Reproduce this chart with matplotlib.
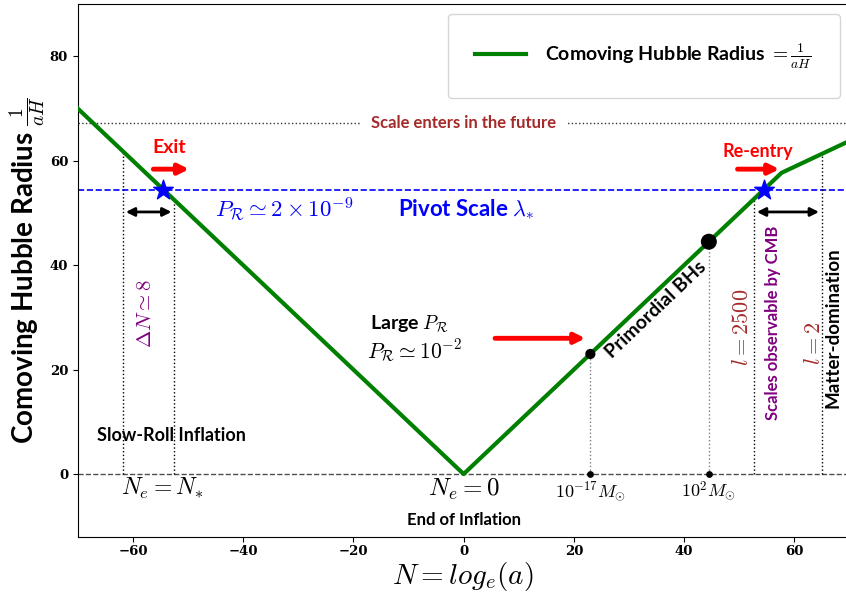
import numpy as np
import matplotlib
matplotlib.use("Agg")
import matplotlib.pyplot as plt
from matplotlib.ticker import FuncFormatter

plt.rcParams['font.family'] = ['Lato', 'DejaVu Sans']
plt.rcParams['font.weight'] = 'bold'
plt.rcParams['axes.labelweight'] = 'bold'
plt.rcParams['mathtext.fontset'] = 'cm'

# comoving hubble radius (piecewise)
N_curve = [-70, 0, 57.7, 70]
R_curve = [70, 0, 57.7, 63.8]

pivot_R = 54.5
pivot_N = [-54.5, 54.5]
future_R = 67.3

# e-folds of interest
N_star = [-61.8, -52.5]        # Delta N ~ 8 window
N_cmb = [52.7, 65.0]           # l=2500 .. l=2
N_pbh = [23.0, 44.5]           # 1e-17 and 1e2 solar masses
pbh_labels = [r'$10^{-17}M_{\odot}$', r'$10^{2}M_{\odot}$']
pbh_sizes = [40, 110]

xticks = [-60, -40, -20, 0, 20, 40, 60]
yticks = [0, 20, 40, 60, 80]


def curve(n):
    return np.interp(n, N_curve, R_curve)


fig = plt.figure(figsize=(8.46, 5.95), dpi=100)
ax = fig.add_axes([0.092, 0.098, 0.912, 0.895])

ax.plot(N_curve, R_curve, color='green', lw=3, label=r'Comoving Hubble Radius $=\frac{1}{aH}$', zorder=3)

ax.axhline(0, color='0.3', ls='--', lw=1)
ax.axhline(pivot_R, color='blue', ls='--', lw=1.2)
ax.axhline(future_R, color='0.2', ls=':', lw=1)
ax.text(0, future_R, 'Scale enters in the future', color='brown', fontsize=12, ha='center', va='center',
        bbox=dict(facecolor='white', edgecolor='none', pad=8), zorder=4)

ax.scatter(pivot_N, [pivot_R] * 2, marker='*', s=220, color='blue', zorder=5)

# vertical guides
for n in N_star + N_cmb:
    ax.plot([n, n], [0, curve(n)], color='black', ls=':', lw=1)
for n in N_pbh:
    ax.plot([n, n], [0, curve(n)], color='0.5', ls=':', lw=1)
ax.scatter(N_pbh, curve(N_pbh), s=pbh_sizes, color='black', zorder=5)
ax.scatter(N_pbh, [0, 0], s=15, color='black', zorder=5)
for n, lab in zip(N_pbh, pbh_labels):
    ax.text(n, -3.3, lab, fontsize=13, ha='center', va='center')

# double arrows
black_arrow = dict(arrowstyle='<|-|>,head_width=0.25,head_length=0.5', color='black', lw=2)
ax.annotate('', xy=(N_star[0], 50.2), xytext=(N_star[1], 50.2), arrowprops=black_arrow)
ax.annotate('', xy=(N_cmb[0], 50.2), xytext=(N_cmb[1], 50.2), arrowprops=black_arrow)

# red arrows
red_arrow = dict(arrowstyle='-|>,head_width=0.3,head_length=0.6', color='red', lw=3.5)
ax.annotate('', xy=(-49.3, 58.4), xytext=(-56.8, 58.4), arrowprops=red_arrow)
ax.text(-53.5, 62.6, 'Exit', color='red', fontsize=14, ha='center', va='center')
ax.annotate('', xy=(57.8, 58.4), xytext=(49.2, 58.4), arrowprops=red_arrow)
ax.text(53.3, 61.8, 'Re-entry', color='red', fontsize=13, ha='center', va='center')
ax.annotate('', xy=(22.6, 26.0), xytext=(5.2, 26.0), arrowprops=red_arrow)

ax.text(-32.5, 50.8, r'$P_{\mathcal{R}} \simeq 2 \times 10^{-9}$', color='blue', fontsize=16.5, ha='center', va='center')
ax.text(0.5, 50.8, r'Pivot Scale $\lambda_{*}$', color='blue', fontsize=16, ha='center', va='center')
ax.text(-57.8, 30.8, r'$\Delta N \simeq 8$', color='purple', fontsize=15, rotation=90, ha='center', va='center')
ax.text(-53.0, 7.3, 'Slow-Roll Inflation', fontsize=13, ha='center', va='center')
ax.text(-54.7, -2.8, r'$N_e = N_{*}$', fontsize=17, ha='center', va='center')
ax.text(0, -3.0, r'$N_e = 0$', fontsize=18, ha='center', va='center')
ax.text(0, -8.8, 'End of Inflation', fontsize=12, ha='center', va='center')
ax.text(-9.8, 28.6, r'Large $P_{\mathcal{R}}$', fontsize=14, ha='center', va='center')
ax.text(-8.9, 23.6, r'$P_{\mathcal{R}} \simeq 10^{-2}$', fontsize=15.5, ha='center', va='center')
ax.text(34.8, 31.4, 'Primordial BHs', fontsize=14, rotation=43.6, ha='center', va='center')
ax.text(50.4, 28.0, r'$l=2500$', color='brown', fontsize=16, rotation=90, ha='center', va='center')
ax.text(56.2, 29.0, 'Scales observable by CMB', color='purple', fontsize=12, rotation=90, ha='center', va='center')
ax.text(63.5, 25.0, r'$l=2$', color='brown', fontsize=16, rotation=90, ha='center', va='center')
ax.text(67.0, 28.0, 'Matter-domination', fontsize=13.5, rotation=90, ha='center', va='center')

ax.set_xlim(-70, 70)
ax.set_ylim(-12, 90)
ax.set_xticks(xticks)
ax.set_yticks(yticks)
ax.xaxis.set_major_formatter(FuncFormatter(lambda v, pos: '%d' % v if v >= 0 else '\u2212%d' % -v))
ax.yaxis.set_major_formatter(FuncFormatter(lambda v, pos: '%d' % v))
ax.tick_params(axis='x', pad=2.5)
for lab in ax.get_xticklabels() + ax.get_yticklabels():
    lab.set_fontfamily('DejaVu Serif')
    lab.set_fontweight('bold')
    lab.set_fontsize(9.5)

fig.text(0.547, 0.004, r'$N = log_e(a)$', fontsize=21, ha='center', va='bottom')
ax.set_ylabel(r'Comoving Hubble Radius $\frac{1}{aH}$', fontsize=20, labelpad=2)

ax.legend(loc='upper right', fontsize=14, borderpad=1.4, handlelength=2.6, handletextpad=1.0,
          borderaxespad=0.5)

fig.savefig('out.png', dpi=100)
